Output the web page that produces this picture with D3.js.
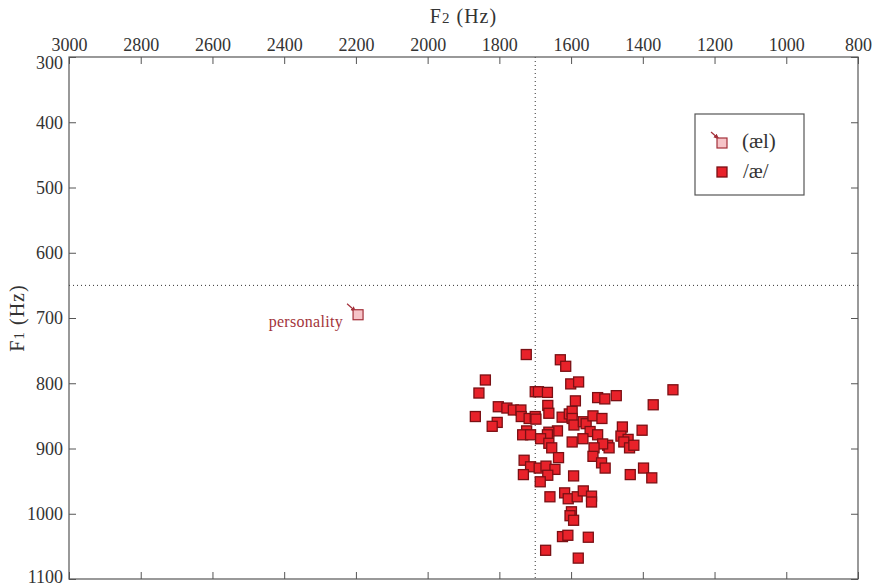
<!DOCTYPE html>
<html>
<head>
<meta charset="utf-8">
<style>
  body { margin: 0; background: #fff; }
  svg text { font-family: "Liberation Serif", "DejaVu Serif", serif; }
</style>
</head>
<body>
<script src="https://d3js.org/d3.v7.min.js"></script>
<script>
// F2 / F1 values (Hz) for the /ae/ tokens
var vowelF2 = [1725, 1630, 1615, 1839, 1857, 1700, 1691, 1666, 1601, 1579,
               1316, 1526, 1506, 1474, 1371, 1588, 1803, 1779, 1761, 1740,
               1665, 1662, 1867, 1806, 1820, 1739, 1717, 1700, 1698, 1625,
               1605, 1597, 1597, 1592, 1566, 1558, 1539, 1514, 1547, 1526,
               1457, 1461, 1441, 1453, 1437, 1425, 1402, 1498, 1494, 1512,
               1536, 1567, 1597, 1638, 1662, 1666, 1724, 1735, 1713, 1685,
               1662, 1654, 1635, 1731, 1713, 1689, 1670, 1645, 1539, 1515,
               1505, 1398, 1733, 1665, 1686, 1593, 1375, 1435, 1659, 1618,
               1608, 1583, 1566, 1543, 1543, 1599, 1603, 1593, 1624, 1609,
               1552, 1671, 1580];
var vowelF1 = [756, 764, 774, 795, 815, 813, 813, 814, 801, 798,
               810, 822, 824, 819, 833, 827, 836, 838, 841, 841,
               834, 846, 851, 860, 866, 851, 854, 851, 855, 852,
               847, 843, 854, 864, 859, 862, 850, 854, 874, 879,
               867, 881, 886, 890, 899, 895, 872, 895, 899, 893,
               899, 885, 890, 873, 875, 879, 873, 879, 879, 885,
               892, 899, 914, 918, 928, 930, 927, 932, 912, 922,
               930, 930, 940, 941, 951, 942, 945, 940, 974, 968,
               977, 974, 965, 973, 982, 997, 1003, 1010, 1035, 1033,
               1036, 1056, 1068];

// the single (ael) token
var aelWords = ["personality"];
var aelF2 = [2194];
var aelF1 = [695];

var f2Ticks = [3000, 2800, 2600, 2400, 2200, 2000, 1800, 1600, 1400, 1200, 1000, 800];
var f1Ticks = [300, 400, 500, 600, 700, 800, 900, 1000, 1100];
var f2Ref = 1700, f1Ref = 650;

var width = 873, height = 587;
var margin = {top: 57, right: 15, bottom: 8, left: 69};
var serif = "'Liberation Serif', 'DejaVu Serif', serif";

var svg = d3.select("body").append("svg")
    .attr("width", width)
    .attr("height", height);

var x = d3.scaleLinear().domain([3000, 800]).range([margin.left, width - margin.right]);
var y = d3.scaleLinear().domain([300, 1100]).range([margin.top, height - margin.bottom]);

var axisColor = "#555";

// arrow head
svg.append("defs").append("marker")
    .attr("id", "arrow")
    .attr("viewBox", "0 0 10 10")
    .attr("refX", 9).attr("refY", 5)
    .attr("markerWidth", 5).attr("markerHeight", 5)
    .attr("orient", "auto")
  .append("path")
    .attr("d", "M0,1 L10,5 L0,9 Z")
    .attr("fill", "#a3303a");

// reference lines
svg.append("line")
    .attr("x1", x(f2Ref)).attr("x2", x(f2Ref))
    .attr("y1", y(300)).attr("y2", y(1100))
    .attr("stroke", "#333").attr("stroke-dasharray", "1,3");
svg.append("line")
    .attr("x1", x(3000)).attr("x2", x(800))
    .attr("y1", y(f1Ref)).attr("y2", y(f1Ref))
    .attr("stroke", "#333").attr("stroke-dasharray", "1,3");

// axes: inward ticks on all four sides, labels top and left
function styleAxis(g) {
  g.attr("font-family", null).attr("font-size", null);
  g.select(".domain").remove();
  g.selectAll(".tick line").attr("stroke", axisColor);
  g.selectAll(".tick text").attr("fill", "#333")
    .style("font-family", serif).style("font-size", "18px");
}

svg.append("g")
    .attr("transform", "translate(0," + y(300) + ")")
    .call(d3.axisTop(x).tickValues(f2Ticks).tickFormat(d3.format("d"))
      .tickSizeInner(-7).tickSizeOuter(0).tickPadding(6))
    .call(styleAxis);

svg.append("g")
    .attr("transform", "translate(0," + y(1100) + ")")
    .call(d3.axisBottom(x).tickValues(f2Ticks).tickSizeInner(-7).tickSizeOuter(0).tickFormat(""))
    .call(styleAxis);

var yAxisG = svg.append("g")
    .attr("transform", "translate(" + x(3000) + ",0)")
    .call(d3.axisLeft(y).tickValues(f1Ticks).tickFormat(d3.format("d"))
      .tickSizeInner(-7).tickSizeOuter(0).tickPadding(6))
    .call(styleAxis);
// end labels sit a little inward, clear of the x labels and page edge
yAxisG.selectAll(".tick text").filter(function (d) { return d === 300; })
    .attr("dy", "0.62em");
yAxisG.selectAll(".tick text").filter(function (d) { return d === 1100; })
    .attr("dy", "0.22em");

svg.append("g")
    .attr("transform", "translate(" + x(800) + ",0)")
    .call(d3.axisRight(y).tickValues(f1Ticks).tickSizeInner(-7).tickSizeOuter(0).tickFormat(""))
    .call(styleAxis);

// frame
svg.append("rect")
    .attr("x", x(3000)).attr("y", y(300))
    .attr("width", x(800) - x(3000)).attr("height", y(1100) - y(300))
    .attr("fill", "none").attr("stroke", axisColor).attr("stroke-width", 1.2);

// axis titles
var t2 = svg.append("text")
    .attr("x", (x(3000) + x(800)) / 2).attr("y", 23)
    .attr("text-anchor", "middle").attr("font-size", 20).attr("fill", "#333")
    .attr("letter-spacing", 1);
t2.append("tspan").text("F");
t2.append("tspan").attr("font-size", 15).text("2");
t2.append("tspan").text(" (Hz)");

var t1 = svg.append("text")
    .attr("transform", "translate(24," + ((y(300) + y(1100)) / 2) + ") rotate(-90)")
    .attr("text-anchor", "middle").attr("font-size", 20).attr("fill", "#333")
    .attr("letter-spacing", 1);
t1.append("tspan").text("F");
t1.append("tspan").attr("font-size", 15).text("1");
t1.append("tspan").text(" (Hz)");

// /ae/ tokens
var sq = 10;
svg.append("g").selectAll("rect")
    .data(vowelF2)
    .enter().append("rect")
    .attr("x", function (d) { return x(d) - sq / 2; })
    .attr("y", function (d, i) { return y(vowelF1[i]) - sq / 2; })
    .attr("width", sq).attr("height", sq)
    .attr("fill", "#e8222a")
    .attr("stroke", "#7a1014")
    .attr("stroke-width", 1.3);

// (ael) token with arrow and word label
aelF2.forEach(function (f2, i) {
  var cx = x(f2), cy = y(aelF1[i]);
  svg.append("line")
      .attr("x1", cx - 11).attr("y1", cy - 11)
      .attr("x2", cx - 2).attr("y2", cy - 3)
      .attr("stroke", "#a3303a").attr("stroke-width", 1.2)
      .attr("marker-end", "url(#arrow)");
  svg.append("rect")
      .attr("x", cx - sq / 2).attr("y", cy - sq / 2)
      .attr("width", sq).attr("height", sq)
      .attr("fill", "#f6c4c8").attr("stroke", "#a3303a").attr("stroke-width", 1.2);
  svg.append("text")
      .attr("x", cx - 15).attr("y", cy + 12)
      .attr("text-anchor", "end").attr("font-size", 16)
      .attr("letter-spacing", 0.3)
      .attr("fill", "#a3343a")
      .text(aelWords[i]);
});

// legend
var legend = svg.append("g");
legend.append("rect")
    .attr("x", 695).attr("y", 114).attr("width", 109).attr("height", 81)
    .attr("fill", "#fff").attr("stroke", axisColor).attr("stroke-width", 1.2);
legend.append("line")
    .attr("x1", 711).attr("y1", 132).attr("x2", 719).attr("y2", 139)
    .attr("stroke", "#a3303a").attr("stroke-width", 1.2)
    .attr("marker-end", "url(#arrow)");
legend.append("rect")
    .attr("x", 717).attr("y", 138).attr("width", sq).attr("height", sq)
    .attr("fill", "#f6c4c8").attr("stroke", "#a3303a").attr("stroke-width", 1.2);
legend.append("text")
    .attr("x", 742).attr("y", 148).attr("font-size", 21).attr("fill", "#333")
    .text("(æl)");
legend.append("rect")
    .attr("x", 717).attr("y", 167).attr("width", sq).attr("height", sq)
    .attr("fill", "#e8222a").attr("stroke", "#7a1014").attr("stroke-width", 1.3);
legend.append("text")
    .attr("x", 743).attr("y", 178).attr("font-size", 21).attr("fill", "#333")
    .text("/æ/");
</script>
</body>
</html>
